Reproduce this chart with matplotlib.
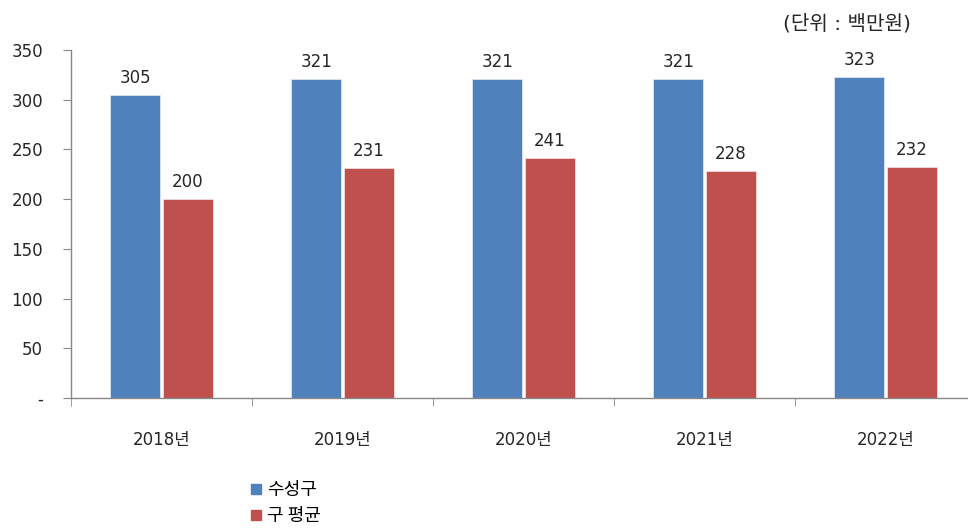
import matplotlib
matplotlib.use("Agg")
import matplotlib.pyplot as plt
import numpy as np
from matplotlib.lines import Line2D

plt.rcParams['font.family'] = ['DejaVu Sans', 'Noto Sans CJK KR']

categories = ['2018년', '2019년', '2020년', '2021년', '2022년']
series_names = ['수성구', '구 평균']
suseong = [305, 321, 321, 321, 323]
gu_avg = [200, 231, 241, 228, 232]
colors = ['#4F81BD', '#C0504D']
yticks = [0, 50, 100, 150, 200, 250, 300, 350]
ytick_labels = ['-', '50', '100', '150', '200', '250', '300', '350']
unit_text = '(단위 : 백만원)'

text_color = '#262626'
fig = plt.figure(figsize=(9.68, 5.30), dpi=100)
ax = fig.add_axes([71/968, 1-398/530, 905/968, 348/530])

x = np.arange(len(categories))
w = 0.276
gap = 0.006
b1 = ax.bar(x - w/2 - gap, suseong, w, color=colors[0], edgecolor='#DCE6F2', linewidth=0.6)
b2 = ax.bar(x + w/2 + gap, gu_avg, w, color=colors[1], edgecolor='#F2DCDB', linewidth=0.6)

for rects, vals in ((b1, suseong), (b2, gu_avg)):
    for r, v in zip(rects, vals):
        ax.text(r.get_x() + r.get_width()/2, v + 8, str(v), ha='center', va='bottom',
                fontsize=12, color=text_color)

ax.set_xlim(-0.5, len(categories) - 0.5)
ax.set_ylim(0, 350)
ax.set_yticks(yticks)
ax.set_yticklabels(ytick_labels, fontsize=12, color=text_color)
ax.set_xticks(x)
ax.set_xticklabels(categories, fontsize=12, color=text_color)
ax.tick_params(axis='x', length=0, pad=24)
ax.set_xticks(np.arange(len(categories) + 1) - 0.5, minor=True)
ax.tick_params(axis='x', which='minor', length=6, direction='out', color='#888888')
ax.tick_params(axis='y', length=6, direction='out', color='#888888', pad=14)
for s in ('top', 'right'):
    ax.spines[s].set_visible(False)
for s in ('left', 'bottom'):
    ax.spines[s].set_color('#888888')
    ax.spines[s].set_linewidth(1)

handles = [Line2D([0], [0], marker='s', linestyle='None', markersize=7,
                  markerfacecolor=c, markeredgecolor=c) for c in colors]
fig.legend(handles, series_names, loc='upper left', bbox_to_anchor=(238/968, 1-472/530),
           frameon=False, handletextpad=0.1, labelspacing=0.45,
           handlelength=1.0, borderpad=0, prop={'family': ['Noto Sans CJK KR'], 'size': 13})

fig.text(847/968, 1-24/530, unit_text, ha='center', va='center', fontsize=14.5,
         color=text_color, family=['DejaVu Sans', 'Noto Sans CJK KR'])

fig.savefig('out.png', dpi=100)
